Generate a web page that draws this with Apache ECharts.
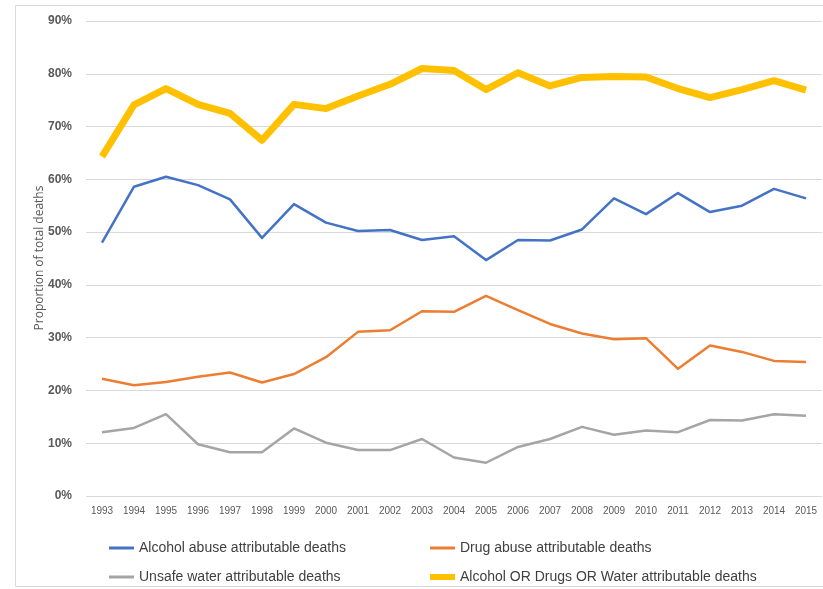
<!DOCTYPE html>
<html><head><meta charset="utf-8">
<script src="https://cdn.jsdelivr.net/npm/echarts@6/dist/echarts.min.js"></script>
<style>html,body{margin:0;padding:0;background:#fff}#c{width:823px;height:589px}</style>
</head><body><div id="c"></div>
<script>
const years = ['1993','1994','1995','1996','1997','1998','1999','2000','2001','2002','2003','2004','2005','2006','2007','2008','2009','2010','2011','2012','2013','2014','2015'];
const alcohol = [48.0,58.6,60.5,58.9,56.2,48.9,55.3,51.8,50.2,50.4,48.5,49.2,44.7,48.5,48.4,50.5,56.4,53.4,57.4,53.8,55.0,58.2,56.4];
const drug = [22.2,21.0,21.6,22.6,23.4,21.5,23.1,26.3,31.1,31.4,35.0,34.9,37.9,35.2,32.6,30.8,29.7,29.9,24.1,28.5,27.3,25.6,25.4];
const water = [12.1,12.9,15.5,9.8,8.3,8.3,12.8,10.1,8.7,8.7,10.8,7.3,6.3,9.3,10.8,13.1,11.6,12.4,12.1,14.4,14.3,15.5,15.2];
const combined = [64.3,74.1,77.2,74.2,72.5,67.4,74.2,73.4,75.8,78.0,81.0,80.6,77.0,80.2,77.7,79.3,79.5,79.4,77.2,75.5,77.0,78.7,76.9];
const names = ['Alcohol abuse attributable deaths','Drug abuse attributable deaths','Unsafe water attributable deaths','Alcohol OR Drugs OR Water attributable deaths'];
const yTicks = [0,10,20,30,40,50,60,70,80,90];
const yName = 'Proportion of total deaths';

const FONT = '"Liberation Sans Narrow","Liberation Sans",sans-serif';
const colors = ['#4472C4','#ED7D31','#A5A5A5','#FFC000'];
const widths = [2.5,2.5,2.5,7];
const datas = [alcohol, drug, water, combined];
const chart = echarts.init(document.getElementById('c'));
const legendPos = [[104,536],[425,536],[104,565],[425,565]];
chart.setOption({
  animation:false,
  backgroundColor:'#fff',
  graphic:[
    {type:'rect',shape:{x:15.5,y:5.5,width:820,height:581},style:{fill:'none',stroke:'#d9d9d9',lineWidth:1},silent:true},
    {type:'text',x:40,y:258,rotation:Math.PI/2,silent:true,
      style:{text:yName,fontFamily:'"Open Sans",sans-serif',fontSize:12,fill:'#595959',align:'center',verticalAlign:'middle'}}
  ],
  grid:{left:86,right:1,top:21,bottom:93},
  legend: names.map((n,i)=>({
    data:[{name:n,icon:'rect'}], left:legendPos[i][0], top:legendPos[i][1],
    itemWidth:25, itemHeight: i===3?6:3, itemGap:0,
    textStyle:{fontFamily:FONT,fontSize:14,color:'#404040'}
  })),
  xAxis:{type:'category',data:years,boundaryGap:true,
    axisLine:{show:false},axisTick:{show:false},
    axisLabel:{fontFamily:FONT,fontSize:10,color:'#595959',margin:10,interval:0}},
  yAxis:{type:'value',min:0,max:90,interval:10,
    axisLabel:{fontFamily:FONT,fontSize:12,fontWeight:'bold',color:'#595959',margin:14,
      formatter:v=>yTicks.includes(v)?v+'%':''},
    splitLine:{lineStyle:{color:'#d9d9d9',width:1}}},
  series: names.map((n,i)=>({
    name:n,type:'line',data:datas[i],symbol:'none',
    lineStyle:{color:colors[i],width:widths[i],join:'round'},
    itemStyle:{color:colors[i]},z: i===3?1:2
  }))
});
</script></body></html>
